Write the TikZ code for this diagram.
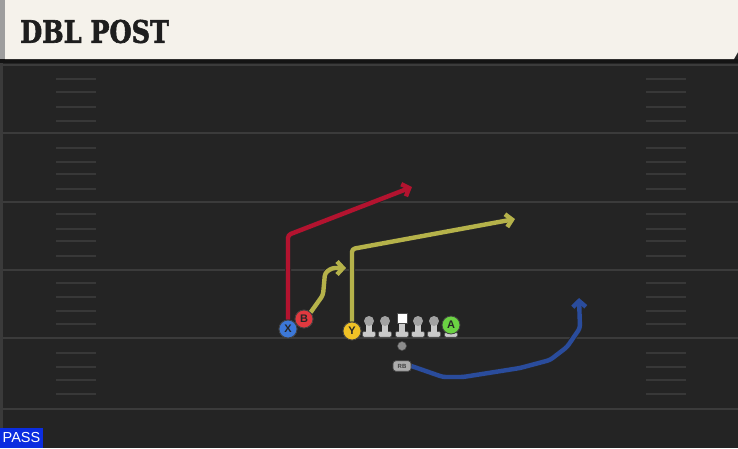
\documentclass[tikz,border=0pt]{standalone}
\usepackage{fontspec}
\setmainfont{DejaVu Serif}
\newfontfamily\titlefont[BoldFeatures={FakeBold=2}]{DejaVu Serif}
\newfontfamily\lsans{Liberation Sans}
\usetikzlibrary{arrows.meta}
\definecolor{bgc}{HTML}{242424}
\definecolor{yardc}{HTML}{3B3B3B}
\definecolor{hashc}{HTML}{383838}
\definecolor{creamc}{HTML}{F5F2EB}
\definecolor{titlec}{HTML}{1E1E1E}
\definecolor{hgrey}{HTML}{9E9E9E}
\definecolor{edgec}{HTML}{3A3A3A}
\definecolor{shadowc}{HTML}{141414}
\definecolor{redr}{HTML}{B3132F}
\definecolor{yelr}{HTML}{B5B24A}
\definecolor{bluer}{HTML}{2A4C9C}
\definecolor{xblue}{HTML}{3C78D8}
\definecolor{bred}{HTML}{E0393F}
\definecolor{yyel}{HTML}{F0C226}
\definecolor{agreen}{HTML}{6BD243}
\definecolor{linec}{HTML}{CACACA}
\definecolor{lined}{HTML}{4A4A4A}
\definecolor{passc}{HTML}{0B2DE0}
\tikzset{
  yard/.style={draw=yardc, line width=1.6pt},
  hashm/.style={draw=hashc, line width=1.4pt},
  route/.style={line width=4.4pt, line join=round, rounded corners=3pt,
    -{Straight Barb[length=6pt,width=13pt]},
    preaction={draw=black!85, line width=6pt}},
  player/.style={circle, minimum size=18pt, inner sep=0pt, draw=black!75, line width=0.8pt,
    font=\lsans\bfseries\fontsize{11}{11}\selectfont, text=black!85},
  rbbox/.style={rounded corners=3pt, fill=linec!85!black, draw=black!75, line width=0.6pt, minimum width=18pt,
    minimum height=10.5pt, inner sep=0pt, font=\lsans\bfseries\fontsize{6}{6}\selectfont, text=black!75},
  lman/.pic={
    \fill[linec, draw=lined, line width=0.5pt, rounded corners=1.2pt] (-6.5,-5.5) rectangle (6.5,0);
    \fill[linec] (-2.8,-13) rectangle (2.8,-5);
    \fill[linec!80!black] (0,-16) circle (5);
  },
  cman/.pic={
    \fill[linec, draw=lined, line width=0.5pt, rounded corners=1.2pt] (-6.5,-5.5) rectangle (6.5,0);
    \fill[linec] (-2.8,-14) rectangle (2.8,-5);
    \fill[white, draw=lined, line width=0.5pt] (-5,-24) rectangle (5,-14);
  },
  plate/.pic={
    \fill[linec, draw=lined, line width=0.5pt, rounded corners=1.2pt] (-6.5,-4.5) rectangle (6.5,0);
  }
}
\begin{document}
\begin{tikzpicture}[x=1pt,y=-1pt]
\useasboundingbox (0,0) rectangle (738,448);
\fill[bgc] (0,0) rectangle (738,448);
\fill[edgec] (0,59) rectangle (2.5,448);
% yard lines
\foreach \yy in {65,133,202,270,338,409} {\draw[yard] (2.5,\yy) -- (738,\yy);}
% hash marks
\foreach \yy in {79,92,107,121,148,162,174,189,214,229,241,256,283,297,311,324,353,367,380,394}
  {\draw[hashm] (56,\yy) -- (96,\yy); \draw[hashm] (646,\yy) -- (686,\yy);}
% header
\fill[shadowc] (0,59) rectangle (738,63);
\fill[creamc] (5,0) -- (738,0) -- (738,52) -- (734,59) -- (5,59) -- cycle;
\fill[hgrey] (0,0) rectangle (5,59);
\node[anchor=west, inner sep=0pt, text=titlec] (title) at (20,31.5)
  {\scalebox{0.82}[1]{\titlefont\bfseries\fontsize{31}{31}\selectfont DBL POST}};
% line
\pic at (369,337) {lman};
\pic at (385,337) {lman};
\pic at (402,337) {cman};
\pic at (418,337) {lman};
\pic at (434,337) {lman};
\pic at (451,337) {plate};
% backs
\node[circle, fill=black!45, draw=black!70, line width=0.5pt, minimum size=9pt, inner sep=0pt] (QB) at (402,346) {};
\node[rbbox] (RB) at (402,366) {RB};
% players
\node[player, fill=xblue] (X) at (288,329) {X};
\node[player, fill=bred] (B) at (304,319) {B};
\node[player, fill=yyel] (Y) at (352,331) {Y};
\node[player, fill=agreen] (A) at (451,325) {A};
% routes
\draw[route, redr] (X.north) -- (288,235) -- (412,187);
\draw[route, yelr] (B.north east) -- (323,295) -- (325,273) -- (332,268) -- (346,268);
\draw[route, yelr] (Y.north) -- (352,249) -- (515,219);
\draw[route, bluer] (RB.east) -- (443,377) -- (463,377) -- (520,368) -- (550,360) -- (567,347) -- (580,328) -- (579,298);
% redraw players on top
\node[player, fill=xblue] at (X) {X};
\node[player, fill=bred] at (B) {B};
\node[player, fill=yyel] at (Y) {Y};
\node[rbbox] at (RB) {RB};
% pass tag
\node[fill=passc, text=white, anchor=south west, inner xsep=2.5pt, inner ysep=0pt, minimum height=20pt,
  font=\lsans\fontsize{14.5}{14.5}\selectfont] (pass) at (0,448) {PASS};
\end{tikzpicture}
\end{document}
